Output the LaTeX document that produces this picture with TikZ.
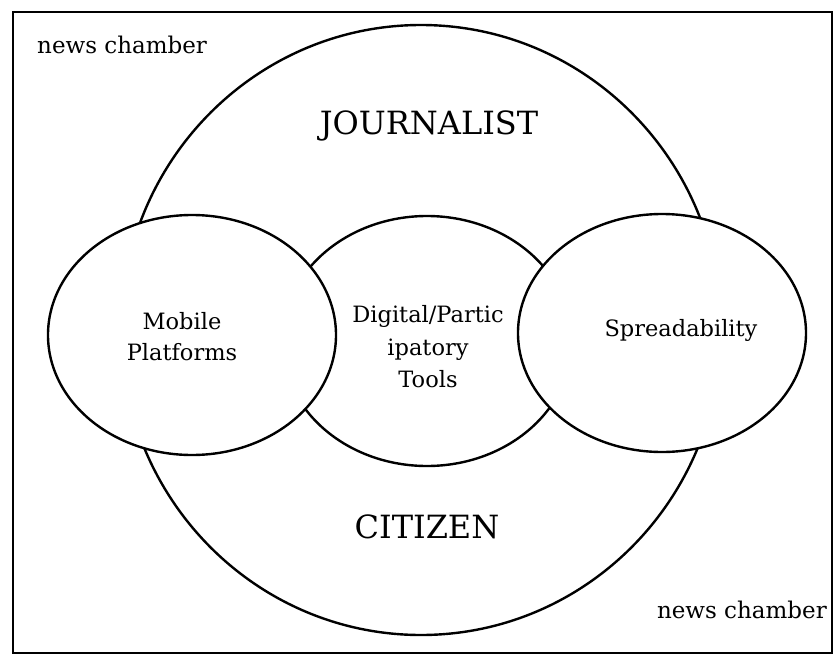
\documentclass[tikz,border=0pt]{standalone}
\usepackage{fontspec}
\setmainfont{DejaVu Serif}
\usetikzlibrary{shapes.geometric}
\tikzset{
  ring/.style={draw=black, line width=2.4pt, fill=white, ellipse, inner sep=0pt},
  lbl/.style={inner sep=0pt, align=center, font=\fontsize{22.5}{31}\selectfont},
  big/.style={inner sep=0pt, font=\fontsize{32}{36}\selectfont},
  corner/.style={inner sep=0pt, font=\fontsize{23}{26}\selectfont}
}
\begin{document}
\begin{tikzpicture}[x=1pt,y=-1pt]
\useasboundingbox (0,0) rectangle (838,656);
\node[draw=black, line width=2.6pt, minimum width=819pt, minimum height=641pt, inner sep=0pt] (frame) at (422.5,332.5) {};
\node[ring, minimum width=600pt, minimum height=610pt] (outer) at (421,330) {};
\node[ring, minimum width=290pt, minimum height=250pt] (mid) at (427,341) {};
\node[ring, minimum width=288pt, minimum height=240pt] (left) at (192,335) {};
\node[ring, minimum width=288pt, minimum height=238pt] (right) at (662,333) {};
\node[corner, anchor=west] (nc1) at (37,45) {news chamber};
\node[corner, anchor=east] (nc2) at (827,610) {news chamber};
\node[big] (jour) at (429,126) {JOURNALIST};
\node[big] (cit) at (427,527) {CITIZEN};
\node[lbl] (mob) at (182,337) {Mobile\\Platforms};
\node[lbl, font=\fontsize{22.5}{32.5}\selectfont] (dig) at (428,347) {Digital/Partic\\ipatory\\Tools};
\node[lbl] (spr) at (681,330) {Spreadability};
\end{tikzpicture}
\end{document}
